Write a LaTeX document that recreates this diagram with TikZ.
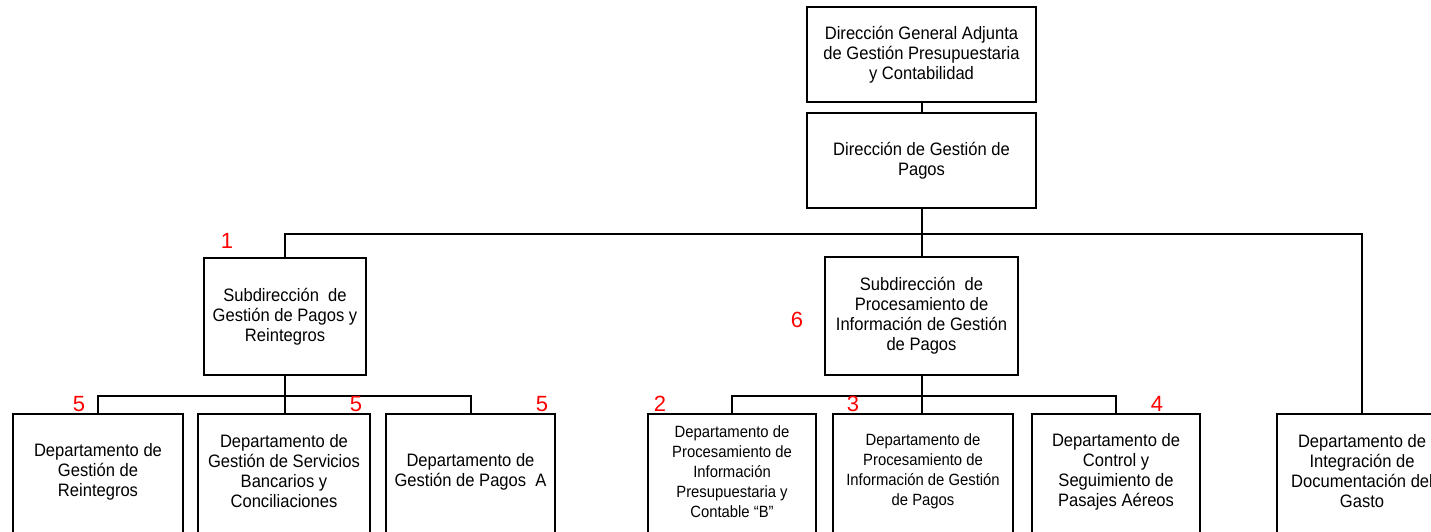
\documentclass[tikz,border=0pt]{standalone}
\usepackage{fontspec}
\setmainfont{Liberation Sans}
\newfontfamily\orgfont[FakeStretch=0.92]{Liberation Sans}
\newfontfamily\orgnarrow[FakeStretch=0.91]{Liberation Sans}
\begin{document}
\begin{tikzpicture}[x=1pt,y=-1pt,
  box/.style={draw, line width=2pt, align=center, inner sep=2pt,
              font=\orgfont\fontsize{18}{20}\selectfont},
  dept/.style={align=center, inner sep=0pt, minimum height=115pt,
               font=\orgfont\fontsize{18}{20}\selectfont},
  narrow/.style={font=\orgnarrow\fontsize{16.3}{20}\selectfont},
  tag/.style={text=red, inner sep=0pt, font=\fontsize{22}{24}\selectfont},
  link/.style={line width=2pt},
  frame/.style={line width=2pt}]
\useasboundingbox (0,0) rectangle (1431,531);

% upper levels
\node[box, minimum width=229pt, minimum height=95pt] (top) at (921.5,54.5)
  {Dirección General Adjunta\\de Gestión Presupuestaria\\y Contabilidad};
\node[box, minimum width=229pt, minimum height=95pt] (pagos) at (921.5,160.5)
  {Dirección de Gestión de\\Pagos};
\node[box, minimum width=162pt, minimum height=117pt] (sub1) at (285,316.5)
  {Subdirección\ \ de\\Gestión de Pagos y\\Reintegros};
\node[box, minimum width=193pt, minimum height=118pt] (sub2) at (921.5,316)
  {Subdirección\ \ de\\Procesamiento de\\Información de Gestión\\de Pagos};

% departments (boxes run past the lower edge)
\node[dept, minimum width=170pt] (d1) at (98,471.5)
  {Departamento de\\Gestión de\\Reintegros};
\node[dept, minimum width=171pt] (d2) at (284,471.5)
  {Departamento de\\Gestión de Servicios\\Bancarios y\\Conciliaciones};
\node[dept, minimum width=169pt] (d3) at (470.5,471.5)
  {Departamento de\\Gestión de Pagos\ \ A};
\node[dept, narrow, minimum width=168pt] (d4) at (732,471.5)
  {Departamento de\\Procesamiento de\\Información\\Presupuestaria y\\Contable “B”};
\node[dept, narrow, minimum width=180pt] (d5) at (923,471.5)
  {Departamento de\\Procesamiento de\\Información de Gestión\\de Pagos};
\node[dept, minimum width=168pt] (d6) at (1116,471.5)
  {Departamento de\\Control y\\Seguimiento de\\Pasajes Aéreos};
\node[dept, minimum width=170pt] (d7) at (1362,471.5)
  {Departamento de\\Integración de\\Documentación del\\Gasto};
\foreach \n in {d1,d2,d3,d4,d5,d6,d7}
  \draw[frame] (\n.north west) rectangle ([yshift=-40pt]\n.south east);

% connectors
\coordinate (busL) at (285,233.5);
\coordinate (busR) at (1362,233.5);
\coordinate (bus1) at (285,395.5);
\coordinate (bus2) at (921.5,395.5);
\draw[link] (top) -- (pagos);
\draw[link] (pagos.south) -- (sub2.north);
\draw[link] (sub1.north) -- (busL) -- (busR) -- (d7.north);
\draw[link] (sub1.south) -- (bus1);
\draw[link] (d1.north) |- (bus1) -| (d3.north);
\draw[link] (bus1) -- (bus1 |- d2.north);
\draw[link] (sub2.south) -- (bus2);
\draw[link] (d4.north) |- (bus2) -| (d6.north);
\draw[link] (bus2) -- (bus2 |- d5.north);

% numbering
\node[tag] (n1) at (227,241) {1};
\node[tag] (n5a) at (79,404) {5};
\node[tag] (n5b) at (356,404) {5};
\node[tag] (n5c) at (542,404) {5};
\node[tag] (n6) at (797,320) {6};
\node[tag] (n2) at (660,404) {2};
\node[tag] (n3) at (853,404) {3};
\node[tag] (n4) at (1157,404) {4};
\end{tikzpicture}
\end{document}
